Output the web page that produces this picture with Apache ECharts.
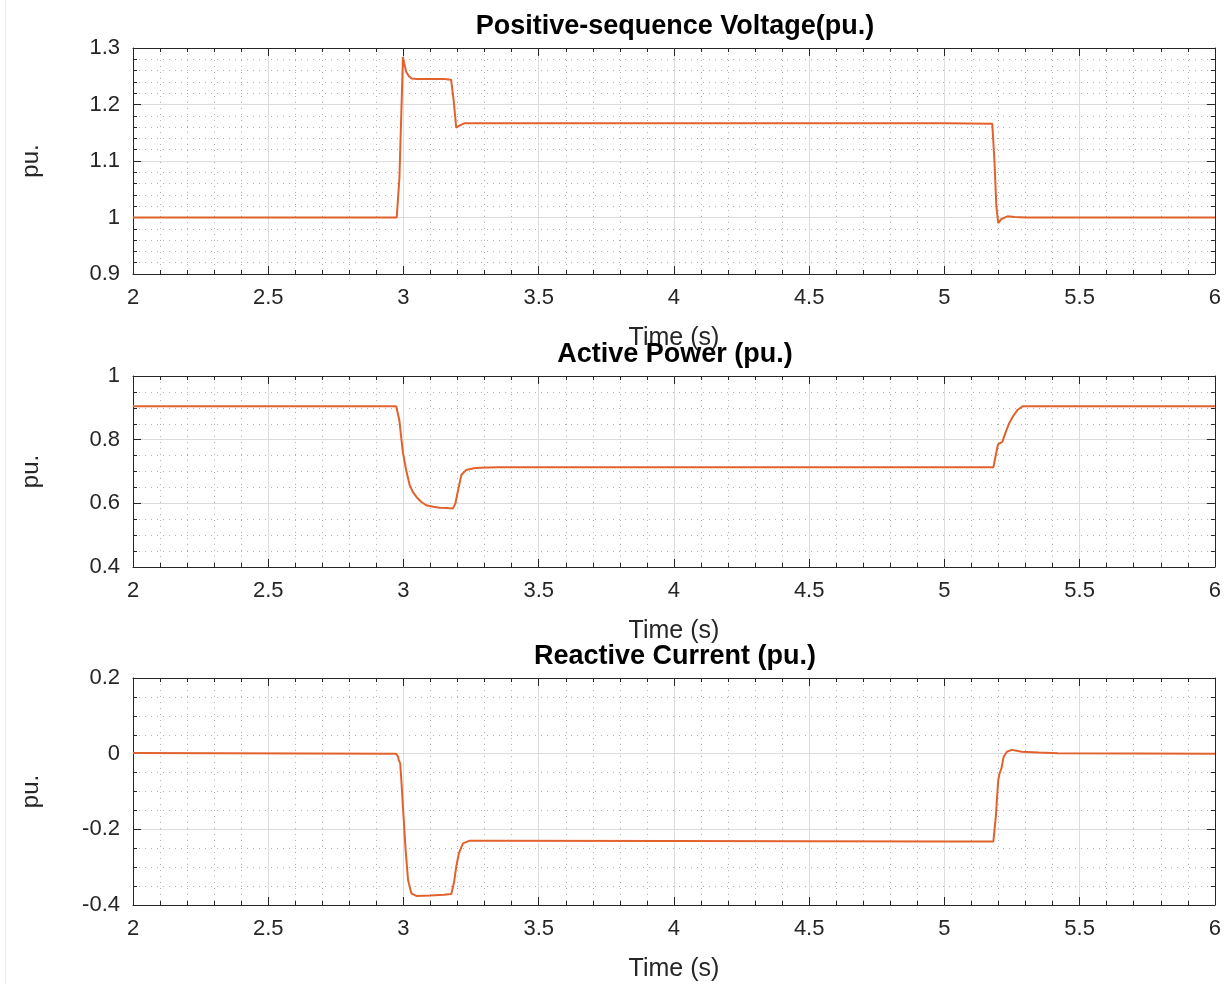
<!DOCTYPE html>
<html>
<head>
<meta charset="utf-8">
<script src="https://cdn.jsdelivr.net/npm/echarts@6/dist/echarts.min.js"></script>
<style>
html,body{margin:0;padding:0;background:#fff;}
#chart{width:1224px;height:984px;}
</style>
</head>
<body>
<div id="chart"></div>
<script>
// ---- data ----
var titles = ['Positive-sequence Voltage(pu.)', 'Active Power (pu.)', 'Reactive Current (pu.)'];
var xLabel = 'Time (s)';
var yLabel = 'pu.';

var voltT = [2, 2.975, 2.985, 2.993, 2.998, 3.003, 3.010, 3.020, 3.030, 3.050, 3.100, 3.150, 3.176, 3.185, 3.195, 3.205, 3.226, 3.300, 4.000, 5.000, 5.177, 5.185, 5.192, 5.199, 5.210, 5.233, 5.260, 5.300, 6];
var voltV = [1.0, 1.0, 1.07, 1.20, 1.284, 1.272, 1.258, 1.250, 1.246, 1.245, 1.245, 1.245, 1.244, 1.21, 1.159, 1.162, 1.167, 1.167, 1.167, 1.167, 1.166, 1.10, 1.02, 0.990, 0.997, 1.002, 1.001, 1.0, 1.0];

var powT = [2, 2.973, 2.985, 2.992, 2.998, 3.010, 3.023, 3.035, 3.048, 3.065, 3.084, 3.110, 3.134, 3.160, 3.183, 3.192, 3.202, 3.214, 3.232, 3.260, 3.282, 3.349, 4.000, 5.000, 5.181, 5.190, 5.198, 5.202, 5.214, 5.225, 5.239, 5.255, 5.270, 5.289, 5.300, 6];
var powV = [0.905, 0.905, 0.86, 0.804, 0.760, 0.704, 0.657, 0.635, 0.620, 0.605, 0.594, 0.589, 0.586, 0.585, 0.584, 0.600, 0.642, 0.689, 0.705, 0.710, 0.712, 0.713, 0.713, 0.713, 0.713, 0.752, 0.785, 0.788, 0.793, 0.820, 0.851, 0.875, 0.893, 0.905, 0.905, 0.905];

var iqT = [2, 2.973, 2.980, 2.983, 2.988, 2.993, 2.998, 3.008, 3.017, 3.029, 3.048, 3.100, 3.150, 3.177, 3.187, 3.195, 3.205, 3.220, 3.245, 3.300, 4.000, 5.000, 5.181, 5.190, 5.199, 5.204, 5.211, 5.219, 5.231, 5.249, 5.286, 5.348, 5.420, 6];
var iqV = [0.002, 0.0, -0.008, -0.017, -0.026, -0.080, -0.140, -0.255, -0.334, -0.369, -0.376, -0.375, -0.373, -0.371, -0.340, -0.299, -0.263, -0.237, -0.230, -0.230, -0.231, -0.232, -0.232, -0.167, -0.070, -0.052, -0.039, -0.008, 0.005, 0.010, 0.005, 0.003, 0.001, 0.0];

var xMin = 2, xMax = 6, xInterval = 0.5;
var yRanges = [[0.9, 1.3, 0.1, 5], [0.4, 1.0, 0.2, 4], [-0.4, 0.2, 0.2, 4]];

function pairs(t, v) { return t.map(function (x, i) { return [x, v[i]]; }); }
var seriesData = [pairs(voltT, voltV), pairs(powT, powV), pairs(iqT, iqV)];

// ---- layout ----
var grids = [
  { left: 133, width: 1083, top: 48, height: 226 },
  { left: 133, width: 1083, top: 376, height: 191 },
  { left: 133, width: 1083, top: 678, height: 227 }
];
var titleTops = [13, 341, 643];
var FONT = 'Liberation Sans, Arial, Helvetica, sans-serif';
var axisColor = '#262626';
var lineColor = '#E2622E';

var xAxes = [], yAxes = [], series = [], title = [];
grids.forEach(function (g, i) {
  title.push({
    text: titles[i], left: 675, top: titleTops[i], textAlign: 'center', padding: 0,
    textStyle: { fontFamily: FONT, fontSize: 27, fontWeight: 'bold', color: '#000' }
  });
  var common = {
    gridIndex: i, type: 'value', min: xMin, max: xMax, interval: xInterval,
    axisLine: { show: true, onZero: false, lineStyle: { color: axisColor, width: 1 } },
    axisTick: { show: true, inside: true, length: 8, lineStyle: { color: axisColor } },
    minorTick: { show: true, splitNumber: 5, length: 4, lineStyle: { color: axisColor } }
  };
  xAxes.push(Object.assign({}, common, {
    position: 'bottom',
    name: xLabel, nameLocation: 'middle', nameGap: 52,
    nameTextStyle: { fontFamily: FONT, fontSize: 25, color: axisColor },
    axisLabel: { fontFamily: FONT, fontSize: 22, color: axisColor, margin: 13 },
    splitLine: { show: true, lineStyle: { color: '#dcdcdc', width: 1 } },
    minorSplitLine: { show: true, lineStyle: { color: '#b0b0b0', width: 1, type: [1, 5] } }
  }));
  xAxes.push(Object.assign({}, common, {
    position: 'top',
    axisLabel: { show: false },
    splitLine: { show: false }
  }));
  var r = yRanges[i];
  var ycommon = {
    gridIndex: i, type: 'value', min: r[0], max: r[1], interval: r[2],
    axisLine: { show: true, onZero: false, lineStyle: { color: axisColor, width: 1 } },
    axisTick: { show: true, inside: true, length: 8, lineStyle: { color: axisColor } },
    minorTick: { show: true, splitNumber: r[3], length: 4, lineStyle: { color: axisColor } }
  };
  yAxes.push(Object.assign({}, ycommon, {
    position: 'left',
    name: yLabel, nameLocation: 'middle', nameGap: 90, nameRotate: 90,
    nameTextStyle: { fontFamily: FONT, fontSize: 24, color: axisColor },
    axisLabel: { fontFamily: FONT, fontSize: 22, color: axisColor, margin: 13 },
    splitLine: { show: true, lineStyle: { color: '#dcdcdc', width: 1 } },
    minorSplitLine: { show: true, lineStyle: { color: '#b0b0b0', width: 1, type: [1, 5] } }
  }));
  yAxes.push(Object.assign({}, ycommon, {
    position: 'right',
    axisLabel: { show: false },
    splitLine: { show: false }
  }));
  series.push({
    type: 'line', xAxisIndex: 2 * i, yAxisIndex: 2 * i,
    data: seriesData[i], showSymbol: false, symbol: 'none', animation: false,
    lineStyle: { color: lineColor, width: 2 }
  });
});

var chart = echarts.init(document.getElementById('chart'), null, { renderer: 'canvas' });
chart.setOption({
  animation: false,
  backgroundColor: '#fff',
  title: title,
  grid: grids,
  xAxis: xAxes,
  yAxis: yAxes,
  series: series,
  graphic: [{
    type: 'line', shape: { x1: 5.5, y1: 0, x2: 5.5, y2: 984 },
    style: { stroke: '#ececec', lineWidth: 1 }, silent: true
  }]
});
</script>
</body>
</html>
